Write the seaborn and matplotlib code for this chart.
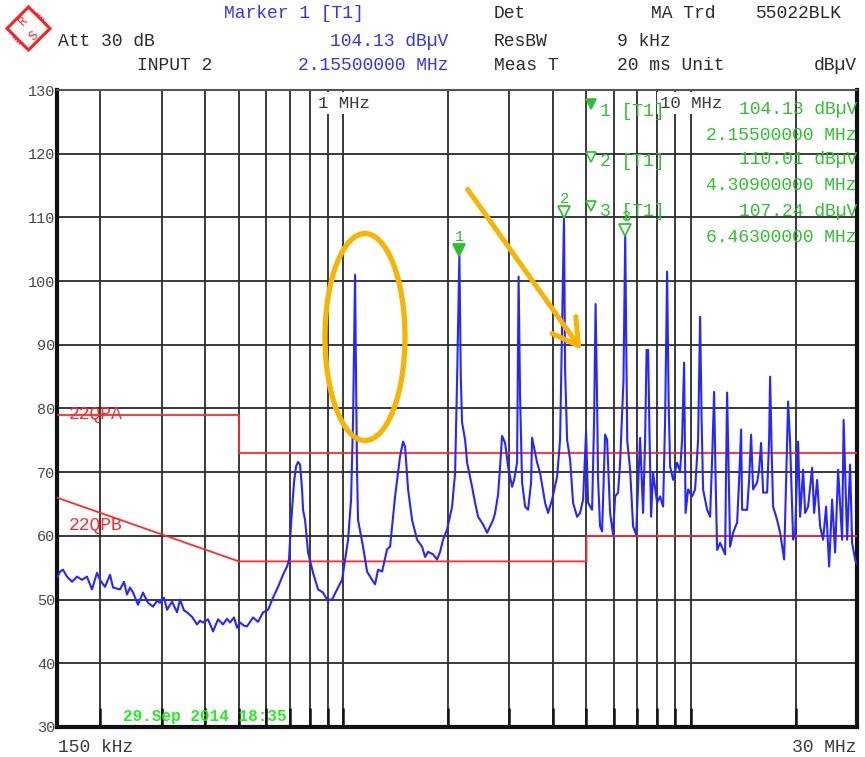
import matplotlib
matplotlib.use("Agg")
import matplotlib.pyplot as plt
import matplotlib.transforms as mtransforms
from matplotlib.patches import Ellipse, FancyArrowPatch, Polygon
from matplotlib.ticker import FixedLocator, NullFormatter
import pandas as pd
import seaborn as sns

# ---------------------------------------------------------------- data
# Conducted emission sweep, 150 kHz .. 30 MHz (frequency in MHz, level in dBuV)
freq_low = [0.150, 0.153, 0.156, 0.1603, 0.1657, 0.1713, 0.1770, 0.1829, 0.1891, 0.1955,
            0.1994, 0.2061, 0.2131, 0.2174, 0.2277, 0.2338, 0.2385, 0.2433, 0.2482, 0.2565,
            0.2651, 0.2741, 0.2833, 0.2910, 0.2968, 0.3048, 0.3109, 0.3213, 0.3322, 0.3388,
            0.3479, 0.3549, 0.3668, 0.3792, 0.3868, 0.3945, 0.4079, 0.4216, 0.4358, 0.4504,
            0.4626, 0.4718, 0.4845, 0.4942, 0.5041, 0.5177, 0.5281, 0.5387, 0.5495, 0.5680,
            0.5871, 0.6069, 0.6273, 0.6485, 0.6702, 0.6883, 0.6975]
level_low = [53.4, 54.4, 54.7, 53.6, 52.8, 53.6, 53.1, 53.6, 51.6, 54.2,
             53.1, 52.0, 53.9, 51.9, 51.6, 52.8, 50.8, 51.9, 51.1, 49.2,
             51.1, 49.5, 48.9, 49.8, 49.5, 50.3, 48.4, 49.7, 48.0, 50.0,
             48.3, 48.0, 47.3, 46.1, 46.7, 46.4, 46.9, 45.0, 46.9, 46.1,
             47.0, 46.4, 47.2, 45.6, 46.4, 45.9, 45.8, 46.5, 47.2, 46.5,
             48.0, 48.4, 50.3, 52.0, 53.9, 55.2, 56.3]

freq_mid = [0.7021, 0.7114, 0.7210, 0.7305, 0.7404, 0.7502, 0.7602, 0.7652, 0.7755, 0.7911,
            0.8176, 0.8453, 0.8736, 0.8972, 0.9273, 0.9586, 0.9908, 1.0108, 1.0311, 1.0517,
            1.0657, 1.0800, 1.0871, 1.0943, 1.1016, 1.1386, 1.1694, 1.2087, 1.2330, 1.2578,
            1.2915, 1.3351, 1.3618, 1.4077, 1.4550, 1.4841, 1.5040, 1.5343, 1.5754, 1.6285,
            1.6832, 1.7170, 1.7516, 1.8104, 1.8592, 1.8964, 1.9343, 1.9866, 2.0533, 2.0946,
            2.1225, 2.155, 2.175, 2.1938, 2.2380, 2.2680, 2.3441, 2.3913, 2.4393, 2.5211]
level_mid = [59.4, 64.1, 68.5, 70.9, 71.6, 71.2, 67.3, 64.1, 62.5, 57.4,
             54.2, 51.6, 51.1, 50.0, 50.0, 51.6, 53.1, 56.3, 59.4, 65.7,
             78.2, 101.0, 84.5, 69.9, 62.5, 58.3, 54.4, 53.1, 52.4, 54.7,
             54.4, 57.9, 58.3, 66.2, 72.5, 74.8, 74.0, 67.3, 62.5, 59.4,
             58.3, 56.7, 57.5, 57.1, 56.3, 57.5, 59.4, 61.0, 64.6, 69.9,
             84.5, 104.13, 85.0, 77.8, 75.1, 71.5, 67.7, 65.2, 63.0, 61.8]

freq_high = [2.5892, 2.6410, 2.6938, 2.7300, 2.7848, 2.8218, 2.8593, 2.9169, 2.9755, 3.0552,
             3.0962, 3.158, 3.19, 3.2215, 3.2644, 3.3301, 3.3969, 3.4648, 3.4879, 3.6057,
             3.6778, 3.8017, 3.8781, 3.9820, 4.1165, 4.1988, 4.2546, 4.309, 4.3403, 4.3983,
             4.4863, 4.5760, 4.6995, 4.7935, 4.8894, 4.9876, 5.0546, 5.1899, 5.2596, 5.312,
             5.3646, 5.4000, 5.4725, 5.5453, 5.6569, 5.7327, 5.8473, 5.9642, 6.0444, 6.1657,
             6.2477, 6.39, 6.463, 6.55, 6.6755, 6.8090, 6.9459, 7.1327, 7.2754, 7.3731]
level_high = [60.5, 61.5, 62.5, 63.6, 66.5, 70.9, 75.7, 74.6, 70.9, 67.7,
              68.8, 71.5, 100.7, 81.8, 68.4, 64.6, 64.1, 68.4, 75.4, 71.5,
              69.9, 65.2, 63.6, 65.7, 69.3, 75.1, 92.4, 110.01, 86.1, 75.1,
              72.0, 65.2, 63.0, 63.6, 65.7, 76.4, 65.2, 64.1, 78.2, 96.4,
              81.4, 68.8, 61.5, 60.7, 75.9, 75.1, 63.6, 60.2, 66.2, 66.8,
              71.5, 84.5, 107.24, 75.0, 70.4, 61.5, 60.2, 75.4, 63.6, 75.1]

freq_top = [7.446, 7.5211, 7.596, 7.6714, 7.7735, 7.9833, 8.1430, 8.3059, 8.4174, 8.5300,
            8.614, 8.7006, 8.8746, 9.1141, 9.2964, 9.4201, 9.5465, 9.641, 9.8025, 10.065,
            10.267, 10.474, 10.613, 10.719, 10.825, 11.118, 11.340, 11.491, 11.645, 11.761,
            11.879, 12.117, 12.359, 12.525, 12.607, 12.692, 12.818, 12.946, 13.205, 13.562,
            13.742, 13.925, 14.017, 14.490, 14.683, 14.878, 15.076, 15.482, 15.688, 15.897,
            16.108, 16.543, 16.763, 16.874, 17.043, 17.211, 17.675, 18.029, 18.514, 18.759,
            19.011, 19.264, 19.649, 19.913, 20.313, 20.583, 20.995, 21.277, 21.703, 22.285,
            22.584, 23.037, 23.498, 23.968, 24.450, 24.942, 25.441, 25.953, 26.474, 27.183,
            27.456, 28.101, 28.663, 29.044, 29.629, 30.0]
level_top = [89.2, 89.2, 75.1, 63.0, 69.9, 65.2, 66.2, 64.6, 78.2, 101.5,
             81.4, 70.9, 68.8, 71.5, 70.1, 75.1, 87.2, 63.6, 67.3, 66.2,
             67.3, 75.1, 94.4, 78.2, 67.3, 64.1, 63.0, 72.0, 82.6, 68.8,
             57.8, 58.9, 57.8, 57.1, 70.4, 82.5, 70.4, 58.3, 60.5, 62.1,
             68.8, 76.7, 64.1, 64.1, 68.8, 75.9, 67.3, 68.4, 70.4, 74.6,
             66.8, 66.8, 75.1, 85.0, 73.5, 64.6, 62.5, 60.5, 56.3, 68.8,
             81.1, 74.6, 59.4, 60.5, 74.8, 63.0, 70.4, 63.6, 64.6, 70.7,
             63.6, 68.8, 61.5, 59.4, 64.6, 55.2, 65.7, 57.4, 70.4, 59.4,
             78.2, 59.4, 71.2, 58.9, 56.3, 55.5]

# EN 55022 quasi-peak limit lines
lim_a_freq = [0.15, 0.5, 0.5, 30.0]
lim_a_level = [79, 79, 73, 73]
lim_b_freq = [0.15, 0.5, 5.0, 5.0, 30.0]
lim_b_level = [66, 56, 56, 60, 60]

# Marker readouts
marker_freq = [2.155, 4.309, 6.463]
marker_level = [104.13, 110.01, 107.24]

grid_freqs = [0.2, 0.3, 0.4, 0.5, 0.6, 0.7, 0.8, 0.9, 1, 2, 3, 4, 5, 6, 7, 8, 9, 10, 20]
level_ticks = [30, 40, 50, 60, 70, 80, 90, 100, 110, 120, 130]

# ---------------------------------------------------------------- style
sns.set_theme(style="white")
plt.rcParams['font.family'] = ['Liberation Mono', 'DejaVu Sans Mono', 'DejaVu Sans']

BLUE = '#2626ff'
TXT_BLUE = '#3535f0'
GREEN = '#30c030'
RED = '#ff2a2a'
ORANGE = '#f7b400'
DARK = '#2b2b2b'

W, H = 865, 757
fig = plt.figure(figsize=(W / 100, H / 100), dpi=100)
fig.patch.set_facecolor('white')
ax = fig.add_axes([57 / W, 1 - 727 / H, 800 / W, 637 / H])

ax.set_xscale('log')
ax.set_xlim(0.15, 30)
ax.set_ylim(30, 130)

trace = pd.DataFrame({
    'freq': freq_low + freq_mid + freq_high + freq_top,
    'level': level_low + level_mid + level_high + level_top,
})
sns.lineplot(data=trace, x='freq', y='level', ax=ax, color=BLUE, lw=1.5,
             estimator=None, sort=False, zorder=5)

ax.plot(lim_a_freq, lim_a_level, color=RED, lw=1.3, zorder=4)
ax.plot(lim_b_freq, lim_b_level, color=RED, lw=1.3, zorder=4)

# grid and frame
ax.xaxis.set_major_locator(FixedLocator(grid_freqs))
ax.xaxis.set_minor_locator(FixedLocator([]))
ax.xaxis.set_major_formatter(NullFormatter())
ax.yaxis.set_major_locator(FixedLocator(level_ticks))
ax.grid(True, which='major', color=DARK, lw=1.3)
ax.set_xlabel('')
ax.set_ylabel('')
ax.tick_params(axis='y', length=0, pad=1, labelsize=11, labelcolor='#4a4a4a')
ax.tick_params(axis='x', which='major', direction='in', length=14, width=1.8,
               color='#111111', bottom=True, top=False)
for side in ('left', 'bottom', 'right'):
    ax.spines[side].set_color('#111111')
    ax.spines[side].set_linewidth(3)
ax.spines['top'].set_color('#555555')
ax.spines['top'].set_linewidth(1.5)

# decade labels at the top
for f_dec, lbl in [(1, '1 MHz'), (10, '10 MHz')]:
    ax.text(f_dec, 127.95, lbl, ha='center', va='center', fontsize=12.5,
            color='#3a3a3a', zorder=8,
            bbox=dict(fc='white', ec='none', pad=2.5))

# limit line names
ax.text(0.162, 79, '22QPA', ha='left', va='center', fontsize=13, color=RED, zorder=6)
ax.text(0.162, 61.7, '22QPB', ha='left', va='center', fontsize=13, color=RED, zorder=6)

# marker symbols on the trace
for i, (mf, ml) in enumerate(zip(marker_freq, marker_level)):
    tr = mtransforms.offset_copy(ax.transData, fig=fig, x=0, y=5, units='dots')
    ax.plot([mf], [ml], marker='v', ms=8, mew=1.3, transform=tr, zorder=7,
            color=GREEN, mfc=GREEN if i == 0 else 'white', mec=GREEN, ls='none')
    ax.annotate(str(i + 1), (mf, ml), xytext=(0, 18), textcoords='offset pixels',
                ha='center', va='center', fontsize=11, color=GREEN, zorder=7)

# ---------------------------------------------------------------- overlay
ov = fig.add_axes([0, 0, 1, 1])
ov.set_xlim(0, W)
ov.set_ylim(H, 0)
ov.axis('off')
ov.patch.set_alpha(0)
ov.set_zorder(ax.get_zorder() + 1)

FS = 13
hdr = [
    (224, 14, 'Marker 1 [T1]', TXT_BLUE, 'left'),
    (494, 14, 'Det', DARK, 'left'),
    (651, 14, 'MA Trd', DARK, 'left'),
    (756, 14, '55022BLK', DARK, 'left'),
    (58, 41, 'Att 30 dB', DARK, 'left'),
    (448, 41, '104.13 dBµV', TXT_BLUE, 'right'),
    (494, 41, 'ResBW', DARK, 'left'),
    (617, 41, '9 kHz', DARK, 'left'),
    (137, 66, 'INPUT 2', DARK, 'left'),
    (448, 66, '2.15500000 MHz', TXT_BLUE, 'right'),
    (494, 66, 'Meas T', DARK, 'left'),
    (617, 66, '20 ms Unit', DARK, 'left'),
    (857, 66, 'dBµV', DARK, 'right'),
]
for x, y, s, c, ha in hdr:
    ov.text(x, y, s, ha=ha, va='center', fontsize=FS, color=c)

# R&S logo
ov.add_patch(Polygon([(28.5, 7), (50, 28.5), (28.5, 50), (7, 28.5)], closed=True,
                     fc='white', ec='#ff2020', lw=2.2, zorder=3))
for off in (-3.0, -1.0, 1.0, 3.0):
    ov.plot([16 + off, 41 + off], [41 + off, 16 + off], color='#ff2020', lw=0.9)
ov.text(23.5, 21.5, 'R', ha='center', va='center', fontsize=9, color='#ff2020',
        rotation=45)
ov.text(34, 36.5, 'S', ha='center', va='center', fontsize=9, color='#ff2020',
        rotation=45)

# marker readout block
rows = [
    (104, 110, '1 [T1]', '104.13 dBµV', '2.15500000 MHz', 135, True),
    (157, 160, '2 [T1]', '110.01 dBµV', '4.30900000 MHz', 186, False),
    (206, 211, '3 [T1]', '107.24 dBµV', '6.46300000 MHz', 237, False),
]
for ty, y, tag, lev, frq, fy, filled in rows:
    ov.plot([591], [ty], marker='v', ms=7, mew=1.2, color=GREEN,
            mfc=GREEN if filled else 'white', mec=GREEN, ls='none')
    ov.text(600, y + 1, tag, ha='left', va='center', fontsize=FS, color=GREEN)
    ov.text(857, y, lev, ha='right', va='center', fontsize=FS, color=GREEN)
    ov.text(857, fy, frq, ha='right', va='center', fontsize=FS, color=GREEN)

# axis end labels and timestamp
ov.text(58, 748, '150 kHz', ha='left', va='center', fontsize=FS, color='#3a3a3a')
ov.text(857, 748, '30 MHz', ha='right', va='center', fontsize=FS, color='#3a3a3a')
ov.text(123, 717, '29.Sep 2014 18:35', ha='left', va='center', fontsize=11.5,
        fontweight='bold', color='#22ee22')

# highlight annotations
ov.add_patch(Ellipse((365, 337), 80, 207, fc='none', ec=ORANGE, lw=3.8, zorder=10))
ov.add_patch(FancyArrowPatch((466, 187), (583, 352),
                             arrowstyle='->,head_length=1.3,head_width=0.75',
                             mutation_scale=14, color=ORANGE, lw=3.6,
                             capstyle='round', joinstyle='round', zorder=10))

fig.savefig('out.png', dpi=100, facecolor='white')
